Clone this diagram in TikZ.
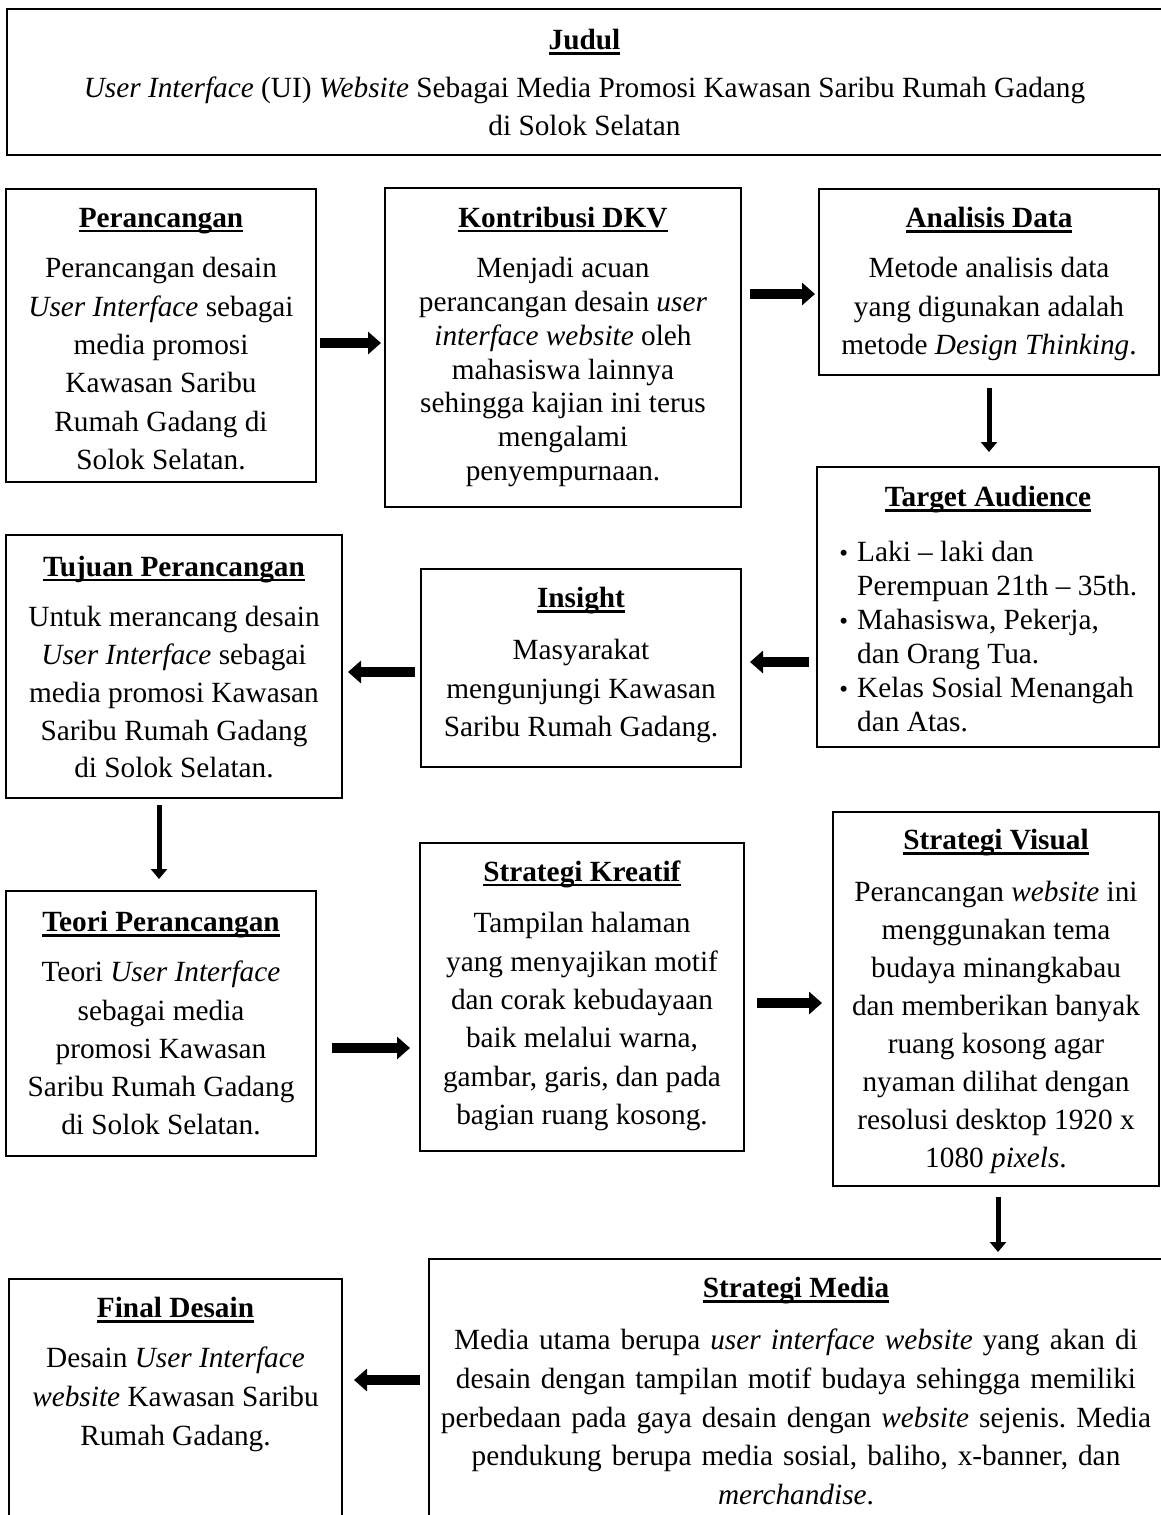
\documentclass[tikz,border=0pt]{standalone}
\usepackage{fontspec}
\setmainfont{Liberation Serif}
\usetikzlibrary{arrows.meta}
\newcommand{\ulx}[1]{\setbox0\hbox{#1}\leavevmode\rlap{\rule[-4.8pt]{\wd0}{2.4pt}}\box0}
\newcommand{\blt}{\llap{{\fontsize{25pt}{25pt}\selectfont •}\hspace{9pt}}}
\tikzset{
  box/.style={draw, line width=1.8pt, anchor=north west, inner sep=0pt, outer sep=0pt},
  txt/.style={anchor=north, align=center, inner sep=0pt},
  fs/.style={font=\fontsize{29.3pt}{#1pt}\selectfont\frenchspacing},
  harrow/.style={line width=9.5pt, -{Triangle[length=13pt,width=22pt]}},
  varrow/.style={line width=5pt, -{Triangle[length=10pt,width=16pt]}},
}
\begin{document}
\begin{tikzpicture}[x=1pt,y=-1pt]
\fill[white] (0,0) rectangle (1161,1515);
\useasboundingbox (0,0) rectangle (1161,1515);

% Judul
\node[box, line width=2.6pt, minimum width=1156pt, minimum height=146pt] (jud) at (7,9) {};
\node[txt, fs=37.5] (judt) at ([xshift=-0.5pt,yshift=-14.25pt]jud.north)
  {\strut\ulx{\textbf{Judul}}\\[10.5pt]
   \textit{User Interface} (UI) \textit{Website} Sebagai Media Promosi Kawasan Saribu Rumah Gadang\\
   di Solok Selatan};

% Row 1
\node[box, minimum width=310pt, minimum height=293pt] (per) at (6,189) {};
\node[txt, fs=38.4] (pert) at ([yshift=-11.6pt]per.north)
  {\strut\ulx{\textbf{Perancangan}}\\[11.6pt]
   Perancangan desain\\
   \textit{User Interface} sebagai\\
   media promosi\\
   Kawasan Saribu\\
   Rumah Gadang di\\
   Solok Selatan.};

\node[box, minimum width=356pt, minimum height=319pt] (kon) at (385,188) {};
\node[txt, fs=33.8] (kont) at ([yshift=-15.8pt]kon.north)
  {\strut\ulx{\textbf{Kontribusi DKV}}\\[16.2pt]
   Menjadi acuan\\
   perancangan desain \textit{user}\\
   \textit{interface website} oleh\\
   mahasiswa lainnya\\
   sehingga kajian ini terus\\
   mengalami\\
   penyempurnaan.};

\node[box, minimum width=340pt, minimum height=186pt] (ana) at (819,189) {};
\node[txt, fs=38.5] (anat) at ([yshift=-11.55pt]ana.north)
  {\strut\ulx{\textbf{Analisis Data}}\\[11.5pt]
   Metode analisis data\\
   yang digunakan adalah\\
   metode \textit{Design Thinking}.};

% Target audience
\node[box, minimum width=342pt, minimum height=280pt] (tar) at (817,467) {};
\node[txt, fs=34] (tart) at ([yshift=-15.7pt]tar.north)
  {\strut\ulx{\textbf{Target Audience}}};
\node[anchor=north west, align=left, inner sep=0pt, fs=34] (tarl) at ([xshift=40pt,yshift=-70.2pt]tar.north west)
  {\strut\blt Laki – laki dan\\
   Perempuan 21th – 35th.\\
   \blt Mahasiswa, Pekerja,\\
   dan Orang Tua.\\
   \blt Kelas Sosial Menangah\\
   dan Atas.};

% Row 2
\node[box, minimum width=336pt, minimum height=263pt] (tuj) at (6,535) {};
\node[txt, fs=37.8] (tujt) at ([yshift=-15pt]tuj.north)
  {\strut\ulx{\textbf{Tujuan Perancangan}}\\[12.2pt]
   Untuk merancang desain\\
   \textit{User Interface} sebagai\\
   media promosi Kawasan\\
   Saribu Rumah Gadang\\
   di Solok Selatan.};

\node[box, minimum width=320pt, minimum height=198pt] (ins) at (421,569) {};
\node[txt, fs=38.5] (inst) at ([yshift=-11.55pt]ins.north)
  {\strut\ulx{\textbf{Insight}}\\[13.5pt]
   Masyarakat\\
   mengunjungi Kawasan\\
   Saribu Rumah Gadang.};

% Row 3
\node[box, minimum width=310pt, minimum height=265pt] (teo) at (6,891) {};
\node[txt, fs=38.3] (teot) at ([yshift=-13.7pt]teo.north)
  {\strut\ulx{\textbf{Teori Perancangan}}\\[11.7pt]
   Teori \textit{User Interface}\\
   sebagai media\\
   promosi Kawasan\\
   Saribu Rumah Gadang\\
   di Solok Selatan.};

\node[box, minimum width=324pt, minimum height=308pt] (kre) at (420,843) {};
\node[txt, fs=38.4] (kret) at ([yshift=-11.6pt]kre.north)
  {\strut\ulx{\textbf{Strategi Kreatif}}\\[12.6pt]
   Tampilan halaman\\
   yang menyajikan motif\\
   dan corak kebudayaan\\
   baik melalui warna,\\
   gambar, garis, dan pada\\
   bagian ruang kosong.};

\node[box, minimum width=326pt, minimum height=374pt] (vis) at (833,812) {};
\node[txt, fs=38] (vist) at ([yshift=-10.9pt]vis.north)
  {\strut\ulx{\textbf{Strategi Visual}}\\[14pt]
   Perancangan \textit{website} ini\\
   menggunakan tema\\
   budaya minangkabau\\
   dan memberikan banyak\\
   ruang kosong agar\\
   nyaman dilihat dengan\\
   resolusi desktop 1920 x\\
   1080 \textit{pixels}.};

% Row 4
\node[box, minimum width=738pt, minimum height=280pt] (med) at (429,1259) {};
\node[txt, fs=38.7, execute at begin node={\spaceskip=10pt}] (medt) at ([xshift=-2pt,yshift=-11.4pt]med.north)
  {\strut{\spaceskip=0pt\ulx{\textbf{Strategi Media}}}\\[13.3pt]
   Media utama berupa \textit{user interface website} yang akan di\\
   desain dengan tampilan motif budaya sehingga memiliki\\
   perbedaan pada gaya desain dengan \textit{website} sejenis. Media\\
   pendukung berupa media sosial, baliho, x-banner, dan\\
   \textit{merchandise}.};

\node[box, minimum width=333pt, minimum height=260pt] (fin) at (9,1279) {};
\node[txt, fs=39] (fint) at ([yshift=-11.2pt]fin.north)
  {\strut\ulx{\textbf{Final Desain}}\\[11pt]
   Desain \textit{User Interface}\\
   \textit{website} Kawasan Saribu\\
   Rumah Gadang.};

% Arrows
\draw[harrow, shorten <=4pt, shorten >=4pt] (per.east |- 0,343) -- (kon.west |- 0,343);
\draw[harrow, shorten <=9pt, shorten >=4pt] (kon.east |- 0,294) -- (ana.west |- 0,294);
\draw[varrow, shorten <=13pt, shorten >=15pt] (ana.south -| 989,0) -- (tar.north -| 989,0);
\draw[harrow, shorten <=8pt, shorten >=9pt] (tar.west |- 0,662) -- (ins.east |- 0,662);
\draw[harrow, shorten <=6pt, shorten >=6pt] (ins.west |- 0,672) -- (tuj.east |- 0,672);
\draw[varrow, shorten <=7pt, shorten >=12pt] (tuj.south -| 159,0) -- (teo.north -| 159,0);
\draw[harrow, shorten <=16pt, shorten >=10pt] (teo.east |- 0,1048) -- (kre.west |- 0,1048);
\draw[harrow, shorten <=13pt, shorten >=11pt] (kre.east |- 0,1003) -- (vis.west |- 0,1003);
\draw[varrow, shorten <=11pt, shorten >=7pt] (vis.south -| 998,0) -- (med.north -| 998,0);
\draw[harrow, shorten <=9pt, shorten >=12pt] (med.west |- 0,1380) -- (fin.east |- 0,1380);
\end{tikzpicture}
\end{document}
